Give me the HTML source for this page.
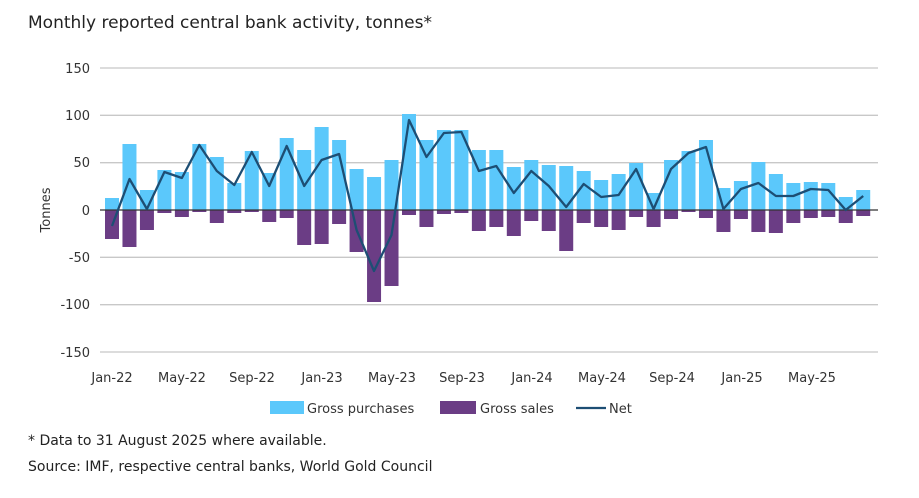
<!DOCTYPE html>
<html><head><meta charset="utf-8"><style>
body{margin:0;background:#fff;}
svg{display:block;font-family:"DejaVu Sans","Liberation Sans",sans-serif;}
</style></head><body>
<svg id="c" width="919" height="498" xmlns="http://www.w3.org/2000/svg">
<text x="28" y="28" font-size="17" fill="#222">Monthly reported central bank activity, tonnes*</text>
<g stroke="#c8c8c8" stroke-width="1.3">
<line x1="100" x2="878" y1="68" y2="68"/><line x1="100" x2="878" y1="115.3" y2="115.3"/>
<line x1="100" x2="878" y1="162.7" y2="162.7"/><line x1="100" x2="878" y1="257.3" y2="257.3"/>
<line x1="100" x2="878" y1="304.7" y2="304.7"/><line x1="100" x2="878" y1="352" y2="352"/>
</g>
<g font-size="13" fill="#333" text-anchor="end">
<text x="90" y="73">150</text><text x="90" y="120">100</text><text x="90" y="167">50</text>
<text x="90" y="215">0</text><text x="90" y="262">-50</text><text x="90" y="309">-100</text><text x="90" y="357">-150</text>
</g>
<text transform="translate(50,210) rotate(-90)" font-size="13" fill="#333" text-anchor="middle">Tonnes</text>
<g id="bars"></g>
<line x1="100" x2="878" y1="210" y2="210" stroke="#333" stroke-width="1.3"/>
<polyline id="net" fill="none" stroke="#1d4e74" stroke-width="2.3" stroke-linejoin="round"/>
<g font-size="13" fill="#333" text-anchor="middle">
<text x="112" y="382">Jan-22</text><text x="182" y="382">May-22</text><text x="252" y="382">Sep-22</text>
<text x="322" y="382">Jan-23</text><text x="392" y="382">May-23</text><text x="462" y="382">Sep-23</text>
<text x="532" y="382">Jan-24</text><text x="602" y="382">May-24</text><text x="672" y="382">Sep-24</text>
<text x="742" y="382">Jan-25</text><text x="812" y="382">May-25</text>
</g>
<rect x="270" y="401" width="34" height="13" fill="#5bc8fb"/>
<text x="307" y="413" font-size="13" fill="#333">Gross purchases</text>
<rect x="440" y="401" width="36" height="13" fill="#6b3d85"/>
<text x="480" y="413" font-size="13" fill="#333">Gross sales</text>
<line x1="576" x2="606" y1="408" y2="408" stroke="#1d4e74" stroke-width="2.3"/>
<text x="609" y="413" font-size="13" fill="#333">Net</text>
<text x="28" y="445" font-size="14" fill="#222">* Data to 31 August 2025 where available.</text>
<text x="28" y="471" font-size="14" fill="#222">Source: IMF, respective central banks, World Gold Council</text>
</svg>
<script>
var top_=[198,144,190,170,172,144,157,183,151,173,138,150,127,140,169,177,160,114,140,130,130,150,150,167,160,165,166,171,180,174,163,193,160,151,140,188,181,162,174,183,182,183,197,190];
var bot=[239,247,230,213,217,212,223,213,212,222,218,245,244,224,252,302,286,215,227,214,213,231,227,236,221,231,251,223,227,230,217,227,219,212,218,232,219,232,233,223,218,217,223,216];
var net=[226,179,209,172,178,145,171,185,152,186,146,186,160,154,230,271,235,120,157,133,132,171,166,193,171,186,207,184,197,195,169,209,169,153,147,209,189,183,196,196,189,190,210,196];
var g=document.getElementById('bars'),ns='http://www.w3.org/2000/svg',pts=[];
for(var i=0;i<44;i++){var x=105+17.47*i;
var r=document.createElementNS(ns,'rect');r.setAttribute('x',x);r.setAttribute('width',14);r.setAttribute('y',top_[i]);r.setAttribute('height',210-top_[i]);r.setAttribute('fill','#5bc8fb');g.appendChild(r);
r=document.createElementNS(ns,'rect');r.setAttribute('x',x);r.setAttribute('width',14);r.setAttribute('y',210);r.setAttribute('height',bot[i]-210);r.setAttribute('fill','#6b3d85');g.appendChild(r);
pts.push((x+7).toFixed(1)+','+net[i]);}
document.getElementById('net').setAttribute('points',pts.join(' '));
</script>
</body></html>
